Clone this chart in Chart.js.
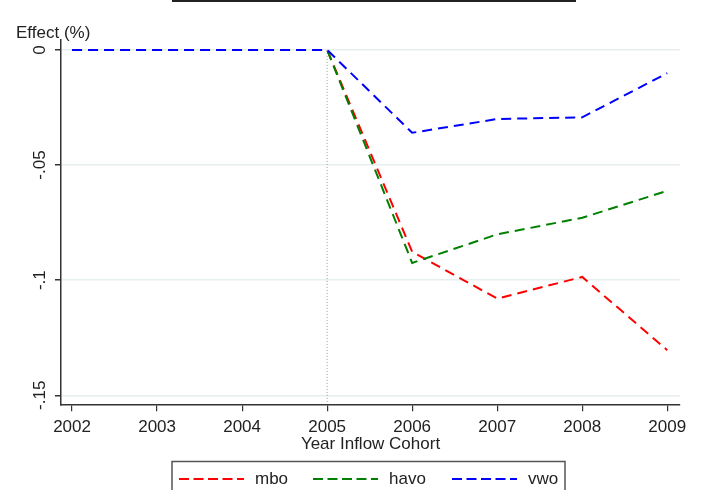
<!DOCTYPE html>
<html>
<head>
<meta charset="utf-8">
<script src="https://cdn.jsdelivr.net/npm/chart.js@4/dist/chart.umd.min.js"></script>
<style>
  html, body { margin: 0; padding: 0; background: #fff; }
  #wrap { width: 712px; height: 490px; }
</style>
</head>
<body>
<div id="wrap"><canvas id="chart"></canvas></div>
<script>
// data
const years = [2002, 2003, 2004, 2005, 2006, 2007, 2008, 2009];
const mbo  = [0, 0, 0, 0, -0.0877, -0.1080, -0.0986, -0.1304];
const havo = [0, 0, 0, 0, -0.0925, -0.0801, -0.0729, -0.0612];
const vwo  = [0, 0, 0, 0, -0.0360, -0.0300, -0.0293, -0.0101];
const yTicks = [0, -0.05, -0.1, -0.15];
const yTickText = ['0', '-.05', '-.1', '-.15'];
const breakYear = 2005;

const FONT = '"Liberation Sans", Arial, sans-serif';
const TXT = '#222';

function pts(vals) {
  return years.map((y, i) => ({ x: y, y: vals[i] }));
}

function line(label, vals, color, order) {
  return {
    label: label,
    data: pts(vals),
    borderColor: color,
    borderWidth: 2,
    borderDash: [10, 6],
    pointRadius: 0,
    fill: false,
    tension: 0,
    order: order
  };
}

// extra bits Stata draws: rotated y labels, axis title, dotted line, boxes
const extras = {
  id: 'extras',
  beforeDatasetsDraw(chart) {
    const ctx = chart.ctx;
    const x = chart.scales.x.getPixelForValue(breakYear);
    ctx.save();
    ctx.strokeStyle = '#999';
    ctx.lineWidth = 1;
    ctx.setLineDash([1, 2]);
    ctx.beginPath();
    ctx.moveTo(x, chart.scales.y.getPixelForValue(0));
    ctx.lineTo(x, chart.chartArea.bottom - 3);
    ctx.stroke();
    ctx.restore();
  },
  afterDraw(chart) {
    const ctx = chart.ctx;
    const ys = chart.scales.y;
    ctx.save();
    ctx.fillStyle = TXT;
    ctx.font = '17px ' + FONT;

    // y tick labels, turned like in the original
    yTicks.forEach((v, i) => {
      ctx.save();
      ctx.translate(40, ys.getPixelForValue(v));
      ctx.rotate(-Math.PI / 2);
      ctx.textAlign = 'center';
      ctx.textBaseline = 'middle';
      ctx.fillText(yTickText[i], 0, 0);
      ctx.restore();
    });

    ctx.textAlign = 'left';
    ctx.textBaseline = 'middle';
    ctx.fillText('Effect (%)', 16, 33);

    // cut-off title box at the top
    ctx.strokeStyle = '#222';
    ctx.lineWidth = 2;
    ctx.strokeRect(173, -20, 402, 21);

    // legend box
    ctx.lineWidth = 1.5;
    ctx.strokeStyle = '#555';
    ctx.strokeRect(172, 461.5, 393, 40);
    const items = [
      ['mbo', 'rgb(255,0,0)', 179],
      ['havo', 'rgb(0,128,0)', 313],
      ['vwo', 'rgb(0,0,255)', 452]
    ];
    items.forEach(it => {
      ctx.strokeStyle = it[1];
      ctx.lineWidth = 2;
      ctx.setLineDash([10, 4.5]);
      ctx.beginPath();
      ctx.moveTo(it[2], 479);
      ctx.lineTo(it[2] + 65, 479);
      ctx.stroke();
      ctx.setLineDash([]);
      ctx.fillText(it[0], it[2] + 76, 479);
    });
    ctx.restore();
  }
};

new Chart(document.getElementById('chart'), {
  type: 'line',
  data: {
    datasets: [
      line('vwo', vwo, 'rgb(0,0,255)', 0),
      line('havo', havo, 'rgb(0,128,0)', 1),
      line('mbo', mbo, 'rgb(255,0,0)', 2)
    ]
  },
  options: {
    responsive: true,
    maintainAspectRatio: false,
    animation: false,
    layout: { padding: { left: 55, top: 40, right: 32, bottom: 35 } },
    plugins: {
      legend: { display: false },
      tooltip: { enabled: false }
    },
    scales: {
      x: {
        type: 'linear',
        min: 2001.87,
        max: 2009.15,
        afterBuildTicks: s => { s.ticks = years.map(v => ({ value: v })); },
        ticks: {
          color: TXT,
          font: { family: FONT, size: 17 },
          padding: 6,
          maxRotation: 0,
          callback: v => String(v)
        },
        grid: { drawOnChartArea: false, tickLength: 6, tickColor: '#333', lineWidth: 1.2 },
        border: { color: '#333', width: 1.5 },
        title: {
          display: true,
          text: 'Year Inflow Cohort',
          color: TXT,
          font: { family: FONT, size: 17 },
          padding: { top: -9, bottom: 0 }
        }
      },
      y: {
        type: 'linear',
        min: -0.1543,
        max: 0.0043,
        afterBuildTicks: s => { s.ticks = yTicks.map(v => ({ value: v })); },
        ticks: { display: false },
        grid: { color: '#e6eeef', lineWidth: 1.5, tickLength: 6, tickColor: '#333' },
        border: { color: '#333', width: 1.5 }
      }
    }
  },
  plugins: [extras]
});
</script>
</body>
</html>
